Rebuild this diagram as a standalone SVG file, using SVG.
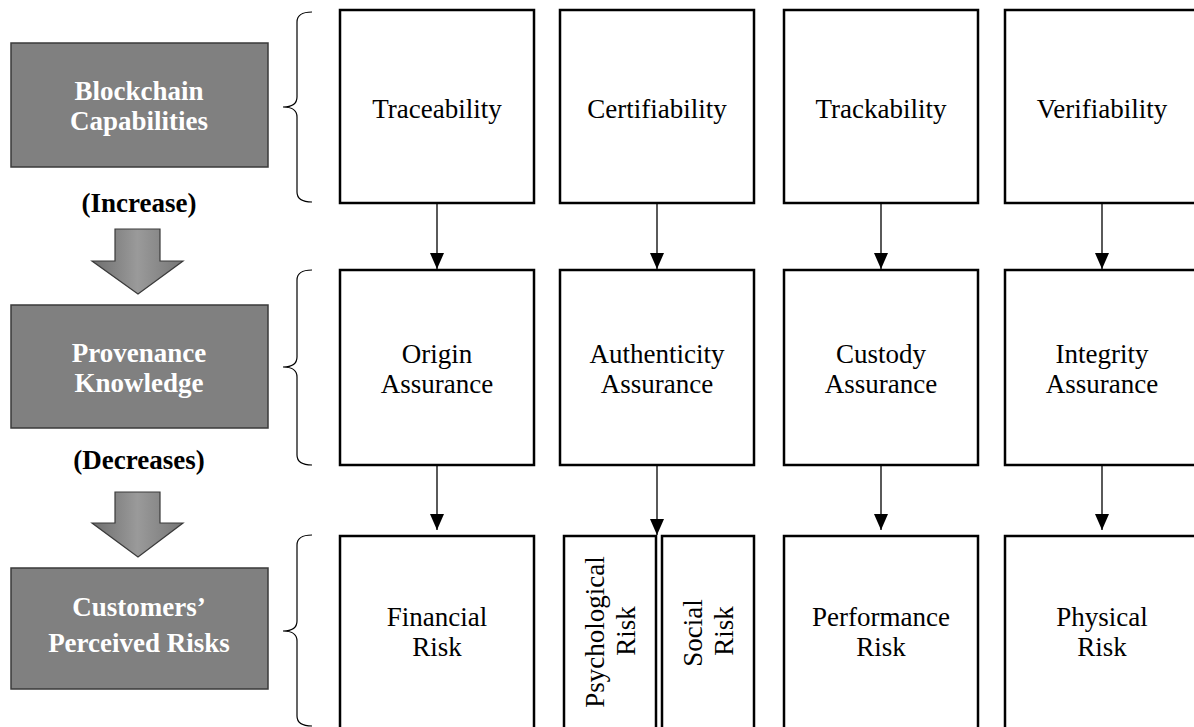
<svg xmlns="http://www.w3.org/2000/svg" width="1194" height="727" viewBox="0 0 1194 727">
<style>
.cat{fill:#808080;stroke:#3a3a3a;stroke-width:1.5}
.cat-t{font-family:"Liberation Serif","Times New Roman",serif;font-weight:bold;font-size:27px;fill:#ffffff;text-anchor:middle}
.lbl{font-family:"Liberation Serif","Times New Roman",serif;font-weight:bold;font-size:27px;fill:#000;text-anchor:middle}
.box{fill:#fff;stroke:#000;stroke-width:2.5}
.t{font-family:"Liberation Serif","Times New Roman",serif;font-size:27px;fill:#000;text-anchor:middle}
.brace{fill:none;stroke:#000;stroke-width:1.2}
.conn{stroke:#000;stroke-width:1.3;fill:none}
.barrow{fill:url(#g);stroke:#3a3a3a;stroke-width:1.2}
</style>
<defs>
<marker id="ah" markerWidth="16" markerHeight="14" refX="16" refY="7" orient="auto" markerUnits="userSpaceOnUse">
<path d="M0,0 L16,7 L0,14 Z" fill="#000"/>
</marker>
<linearGradient id="g" x1="0" y1="0" x2="1" y2="0">
<stop offset="0" stop-color="#6e6e6e"/>
<stop offset="0.5" stop-color="#9a9a9a"/>
<stop offset="1" stop-color="#767676"/>
</linearGradient>
</defs>

<g id="left-categories">
<g id="cat-blockchain">
<rect class="cat" x="11" y="43" width="257" height="124"/>
<text class="cat-t" x="139" y="100">Blockchain</text>
<text class="cat-t" x="139" y="130">Capabilities</text>
</g>
<g id="label-increase">
<text class="lbl" x="139" y="212">(Increase)</text>
</g>
<g id="arrow-increase">
<path class="barrow" d="M115,229 L160,229 L160,261 L183,261 L138,294 L92,261 L115,261 Z"/>
</g>
<g id="cat-provenance">
<rect class="cat" x="11" y="305" width="257" height="123"/>
<text class="cat-t" x="139" y="362">Provenance</text>
<text class="cat-t" x="139" y="392">Knowledge</text>
</g>
<g id="label-decreases">
<text class="lbl" x="139" y="469">(Decreases)</text>
</g>
<g id="arrow-decreases">
<path class="barrow" d="M115,492 L160,492 L160,523 L183,523 L138,557 L92,523 L115,523 Z"/>
</g>
<g id="cat-risks">
<rect class="cat" x="11" y="568" width="257" height="121"/>
<text class="cat-t" x="139" y="616">Customers’</text>
<text class="cat-t" x="139" y="652">Perceived Risks</text>
</g>
</g>

<g id="braces">
<path class="brace" d="M312,12 Q297,12 297,22 L297,97 Q297,107 283,107 Q297,107 297,117 L297,192 Q297,202 312,202"/>
<path class="brace" d="M312,270 Q297,270 297,280 L297,357 Q297,367 283,367 Q297,367 297,377 L297,455 Q297,465 312,465"/>
<path class="brace" d="M312,535 Q297,535 297,545 L297,621 Q297,631 283,631 Q297,631 297,641 L297,716 Q297,726 312,726"/>
</g>

<g id="node-traceability"><rect class="box" x="340" y="10" width="194" height="193"/><text class="t" x="437" y="118">Traceability</text></g>
<g id="node-certifiability"><rect class="box" x="560" y="10" width="194" height="193"/><text class="t" x="657" y="118">Certifiability</text></g>
<g id="node-trackability"><rect class="box" x="784" y="10" width="194" height="193"/><text class="t" x="881" y="118">Trackability</text></g>
<g id="node-verifiability"><rect class="box" x="1005" y="10" width="194" height="193"/><text class="t" x="1102" y="118">Verifiability</text></g>

<g id="node-origin"><rect class="box" x="340" y="270" width="194" height="195"/><text class="t" x="437" y="363">Origin</text><text class="t" x="437" y="393">Assurance</text></g>
<g id="node-authenticity"><rect class="box" x="560" y="270" width="194" height="195"/><text class="t" x="657" y="363">Authenticity</text><text class="t" x="657" y="393">Assurance</text></g>
<g id="node-custody"><rect class="box" x="784" y="270" width="194" height="195"/><text class="t" x="881" y="363">Custody</text><text class="t" x="881" y="393">Assurance</text></g>
<g id="node-integrity"><rect class="box" x="1005" y="270" width="194" height="195"/><text class="t" x="1102" y="363">Integrity</text><text class="t" x="1102" y="393">Assurance</text></g>

<g id="node-financial"><rect class="box" x="340" y="536" width="194" height="200"/><text class="t" x="437" y="626">Financial</text><text class="t" x="437" y="656">Risk</text></g>
<g id="node-psychological"><rect class="box" x="564" y="536" width="92" height="200"/><text class="t" transform="translate(604,632) rotate(-90)">Psychological</text><text class="t" transform="translate(635,631) rotate(-90)">Risk</text></g>
<g id="node-social"><rect class="box" x="662" y="536" width="92" height="200"/><text class="t" transform="translate(702,633) rotate(-90)">Social</text><text class="t" transform="translate(733,631) rotate(-90)">Risk</text></g>
<g id="node-performance"><rect class="box" x="784" y="536" width="194" height="200"/><text class="t" x="881" y="626">Performance</text><text class="t" x="881" y="656">Risk</text></g>
<g id="node-physical"><rect class="box" x="1005" y="536" width="194" height="200"/><text class="t" x="1102" y="626">Physical</text><text class="t" x="1102" y="656">Risk</text></g>

<g id="connectors">
<line class="conn" x1="437" y1="204" x2="437" y2="269" marker-end="url(#ah)"/>
<line class="conn" x1="657" y1="204" x2="657" y2="269" marker-end="url(#ah)"/>
<line class="conn" x1="881" y1="204" x2="881" y2="269" marker-end="url(#ah)"/>
<line class="conn" x1="1102" y1="204" x2="1102" y2="269" marker-end="url(#ah)"/>
<line class="conn" x1="437" y1="466" x2="437" y2="530" marker-end="url(#ah)"/>
<line class="conn" x1="657" y1="466" x2="657" y2="535" marker-end="url(#ah)"/>
<line class="conn" x1="881" y1="466" x2="881" y2="530" marker-end="url(#ah)"/>
<line class="conn" x1="1102" y1="466" x2="1102" y2="530" marker-end="url(#ah)"/>
</g>
</svg>
